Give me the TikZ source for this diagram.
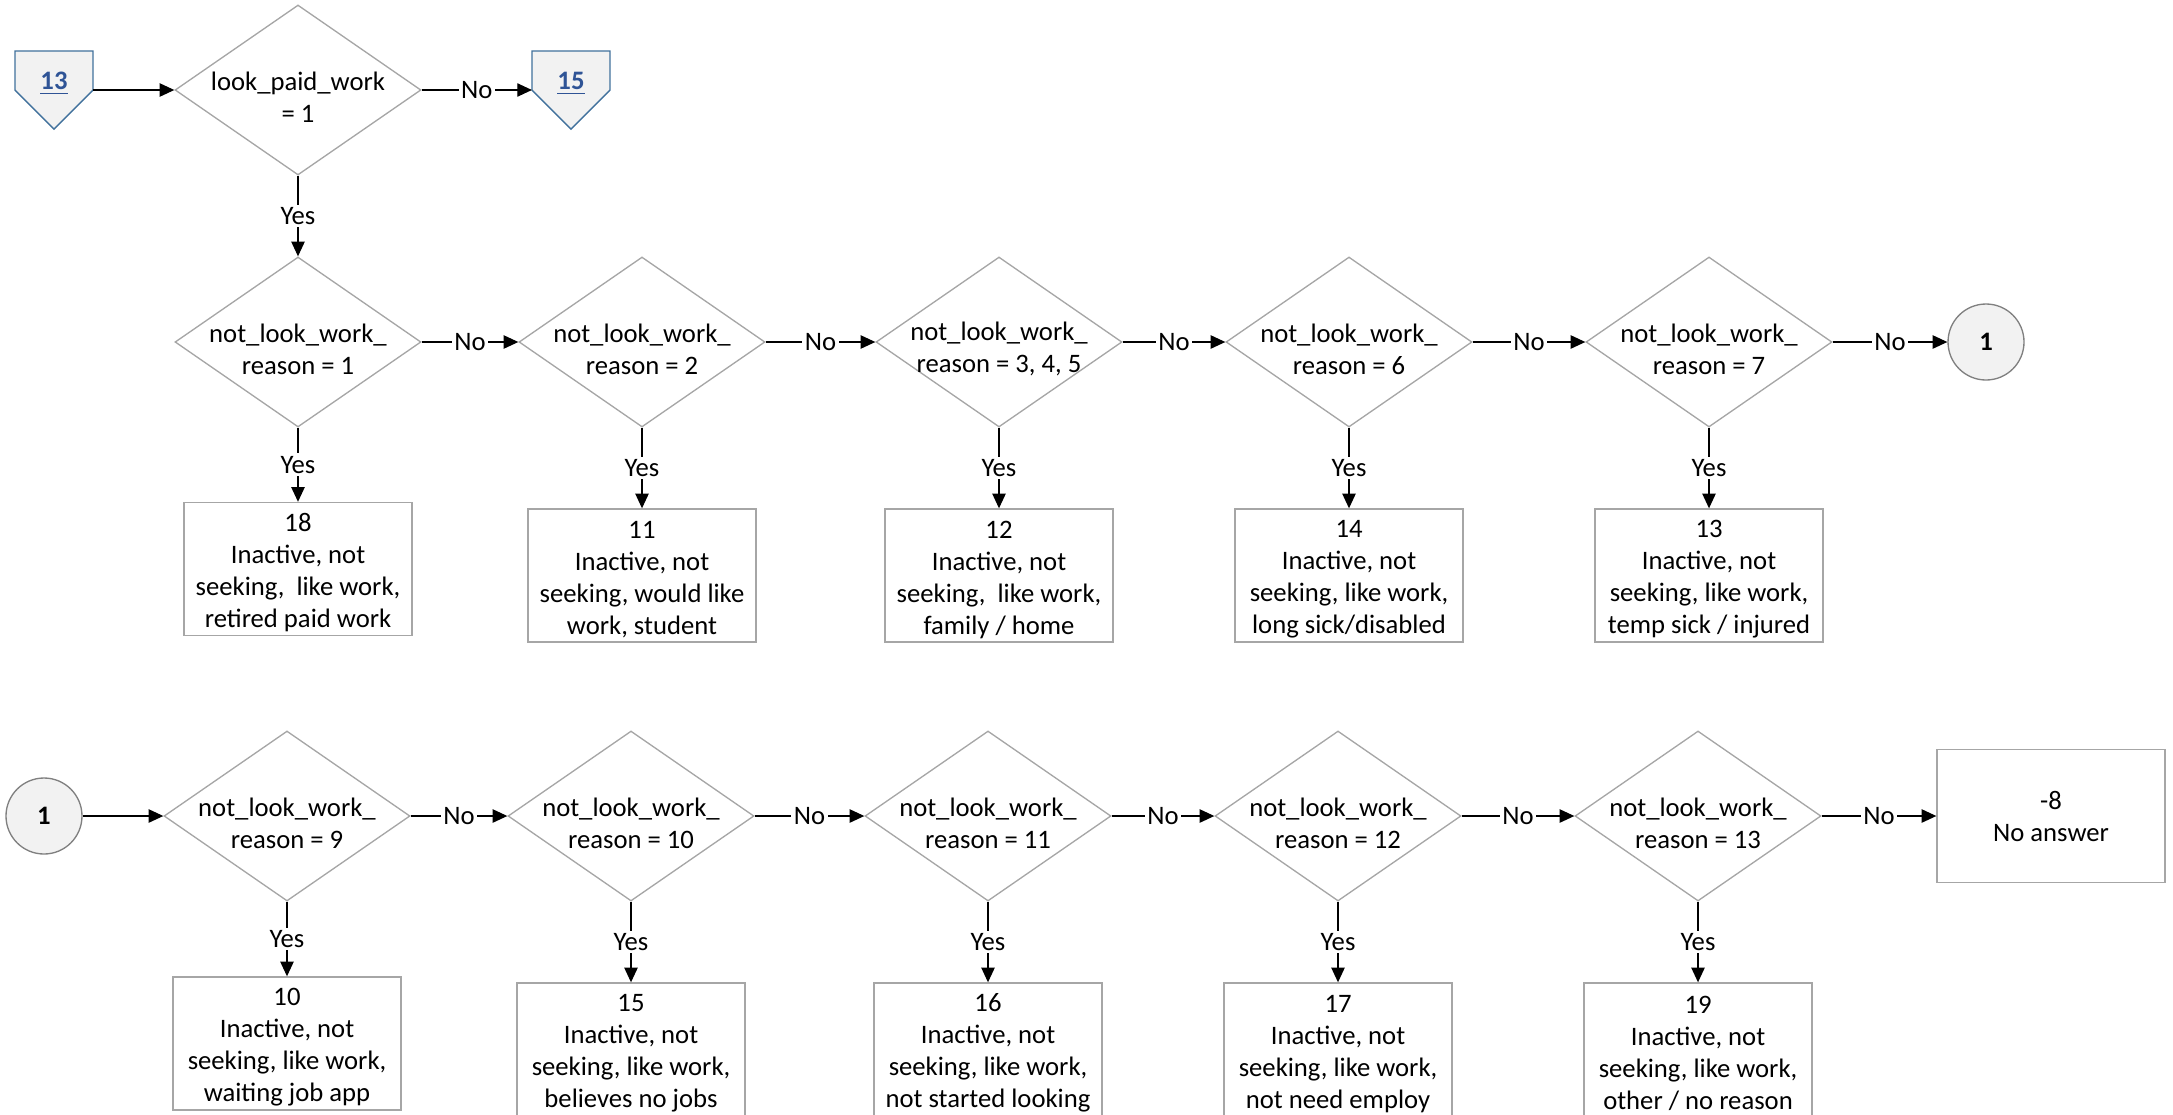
\documentclass[tikz,border=0pt]{standalone}
\usepackage{fontspec}
\setmainfont{Carlito}
\usepackage{xcolor}
\usepackage{tikz}
\usetikzlibrary{shapes,arrows,positioning,calc,arrows.meta,backgrounds}

\definecolor{linegray}{HTML}{A6A6A6}
\definecolor{circgray}{HTML}{808080}
\definecolor{pagefill}{HTML}{F2F2F2}
\definecolor{pageblue}{HTML}{41719C}
\definecolor{linkblue}{HTML}{2F5496}

\tikzset{
  decision/.style={diamond, draw=linegray, line width=0.5pt, aspect=1.45, inner sep=-8pt,
    minimum width=92.25pt, minimum height=63.75pt, align=center,
    execute at begin node={\rule{0pt}{24.5pt}}},
  plainbox/.style={rectangle, draw=linegray, line width=0.5pt, inner sep=0pt,
    minimum width=85.5pt, minimum height=49.9pt, align=center},
  result/.style={plainbox, execute at begin node={\rule{0pt}{45.5pt}}},
  joint/.style={circle, draw=circgray, fill=pagefill, line width=0.5pt, inner sep=0pt,
    minimum size=28.5pt, font=\bfseries},
  offpage/.style={rectangle, inner sep=0pt, minimum width=28.9pt, minimum height=28.9pt,
    font=\bfseries, text=linkblue, text height=6.5pt, text depth=7pt},
  flow/.style={-{Triangle[length=5.5pt,width=5pt]}, line width=0.5pt},
  lbl/.style={fill=white, inner sep=1pt}
}

\begin{document}
\begin{tikzpicture}[x=0.375pt, y=-0.375pt]
    \useasboundingbox (0,0) rectangle (2173,1114);
    \clip (0,0) rectangle (2173,1114);

    % top row
    \node[offpage] (c13) at (54,90) {\underline{13}};
    \node[decision] (q0) at (298,90) {look\_paid\_work\\= 1};
    \node[offpage] (c15) at (571,90) {\underline{15}};

    % second row
    \node[decision] (q1) at (298,342) {not\_look\_work\_\\reason = 1};
    \node[decision] (q2) at (642,342) {not\_look\_work\_\\reason = 2};
    \node[decision] (q3) at (999,342) {not\_look\_work\_\\reason = 3, 4, 5};
    \node[decision] (q4) at (1349,342) {not\_look\_work\_\\reason = 6};
    \node[decision] (q5) at (1709,342) {not\_look\_work\_\\reason = 7};
    \node[joint] (j1) at (1986,342) {1};

    \node[result] (r18) at (298,569) {18\\Inactive, not\\seeking,~ like work,\\retired paid work};
    \node[result] (r11) at (642,575.5) {11\\Inactive, not\\seeking, would like\\work, student};
    \node[result] (r12) at (999,575.5) {12\\Inactive, not\\seeking,~ like work,\\family / home};
    \node[result] (r14) at (1349,575.5) {14\\Inactive, not\\seeking, like work,\\long sick/disabled};
    \node[result] (r13) at (1709,575.5) {13\\Inactive, not\\seeking, like work,\\temp sick / injured};

    % third row
    \node[joint] (j2) at (44,816) {1};
    \node[decision] (q9) at (287,816) {not\_look\_work\_\\reason = 9};
    \node[decision] (q10) at (631,816) {not\_look\_work\_\\reason = 10};
    \node[decision] (q11) at (988,816) {not\_look\_work\_\\reason = 11};
    \node[decision] (q12) at (1338,816) {not\_look\_work\_\\reason = 12};
    \node[decision] (q13) at (1698,816) {not\_look\_work\_\\reason = 13};
    \node[plainbox] (na) at (2051,816) {-8\\No answer};

    \node[result] (r10) at (287,1043.5) {10\\Inactive, not\\seeking, like work,\\waiting job app};
    \node[result] (r15) at (631,1049.5) {15\\Inactive, not\\seeking, like work,\\believes no jobs};
    \node[result] (r16) at (988,1049.5) {16\\Inactive, not\\seeking, like work,\\not started looking};
    \node[result] (r17) at (1338,1049.5) {17\\Inactive, not\\seeking, like work,\\not need employ};
    \node[result] (r19) at (1698,1049.5) {19\\Inactive, not\\seeking, like work,\\other / no reason};

    % off-page shapes
    \begin{scope}[on background layer]
        \foreach \c in {c13,c15}
            \filldraw[fill=pagefill, draw=pageblue, line width=0.5pt]
                (\c.north west) -- (\c.north east) -- (\c.east) -- (\c.south) -- (\c.west) -- cycle;
    \end{scope}

    % connectors
    \draw[flow] (c13) -- (q0);
    \draw[flow] (q0) -- node[lbl] {No} (c15);
    \draw[flow] (q0) -- node[lbl] {Yes} (q1);

    \draw[flow] (q1) -- node[lbl] {No} (q2);
    \draw[flow] (q2) -- node[lbl] {No} (q3);
    \draw[flow] (q3) -- node[lbl] {No} (q4);
    \draw[flow] (q4) -- node[lbl] {No} (q5);
    \draw[flow] (q5) -- node[lbl] {No} (j1);
    \draw[flow] (q1) -- node[lbl] {Yes} (r18);
    \draw[flow] (q2) -- node[lbl] {Yes} (r11);
    \draw[flow] (q3) -- node[lbl] {Yes} (r12);
    \draw[flow] (q4) -- node[lbl] {Yes} (r14);
    \draw[flow] (q5) -- node[lbl] {Yes} (r13);

    \draw[flow] (j2) -- (q9);
    \draw[flow] (q9) -- node[lbl] {No} (q10);
    \draw[flow] (q10) -- node[lbl] {No} (q11);
    \draw[flow] (q11) -- node[lbl] {No} (q12);
    \draw[flow] (q12) -- node[lbl] {No} (q13);
    \draw[flow] (q13) -- node[lbl] {No} (na);
    \draw[flow] (q9) -- node[lbl] {Yes} (r10);
    \draw[flow] (q10) -- node[lbl] {Yes} (r15);
    \draw[flow] (q11) -- node[lbl] {Yes} (r16);
    \draw[flow] (q12) -- node[lbl] {Yes} (r17);
    \draw[flow] (q13) -- node[lbl] {Yes} (r19);
\end{tikzpicture}
\end{document}
